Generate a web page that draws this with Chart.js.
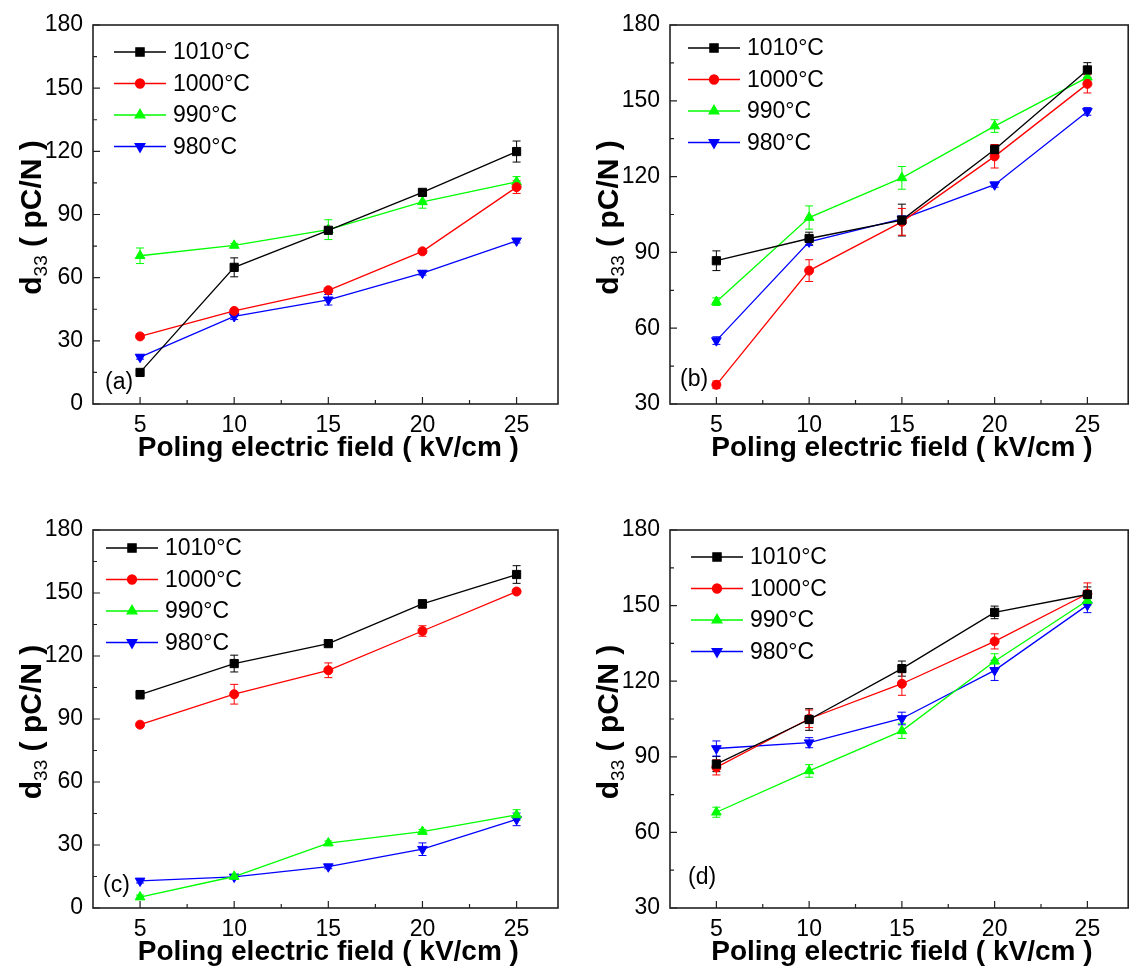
<!DOCTYPE html>
<html>
<head>
<meta charset="utf-8">
<script src="https://cdn.jsdelivr.net/npm/chart.js@4.4.1/dist/chart.umd.min.js"></script>
<style>
  html, body { margin: 0; padding: 0; background: #fff; }
  body { position: relative; width: 1131px; height: 967px; overflow: hidden; }
  canvas { position: absolute; }
</style>
</head>
<body>
<canvas id="chartA" width="570" height="480" style="left:0;top:0"></canvas>
<canvas id="chartB" width="570" height="480" style="left:565px;top:0"></canvas>
<canvas id="chartC" width="570" height="500" style="left:0;top:480px"></canvas>
<canvas id="chartD" width="570" height="500" style="left:565px;top:480px"></canvas>
<script>
// poling field (kV/cm)
const fieldValues = [5, 10, 15, 20, 25];
const xTicks = [5, 10, 15, 20, 25];
const xMinorTicks = [7.5, 12.5, 17.5, 22.5];
const yTicksAC = [0, 30, 60, 90, 120, 150, 180];
const yTicksBD = [30, 60, 90, 120, 150, 180];
const seriesNames = ['1010°C', '1000°C', '990°C', '980°C'];
const seriesColors = ['#000000', '#ff0000', '#00ff00', '#0000ff'];

// (a)
const a1010 = [15, 64.9, 82.5, 100.5, 119.9];
const a1000 = [32.1, 44.2, 54, 72.5, 103];
const a990 = [70.4, 75.3, 82.8, 96, 105.5];
const a980 = [22.3, 41.6, 49.5, 62.2, 77.5];
const a1010Err = [1, 4.5, 1, 1, 5];
const a1000Err = [1, 1, 1, 1, 3];
const a990Err = [3.7, 1, 4.7, 3, 2.5];
const a980Err = [1, 1.5, 2.5, 1, 1];

// (b)
const b1010 = [86.7, 95.5, 102.8, 130.7, 162.2];
const b1000 = [37.6, 82.8, 102.1, 128, 156.7];
const b990 = [70.5, 103.8, 119.5, 140, 159.3];
const b980 = [55.1, 94.2, 103.3, 116.8, 145.8];
const b1010Err = [3.9, 2.5, 6.3, 2, 2.9];
const b1000Err = [1.5, 4.3, 5.3, 4.6, 3.6];
const b990Err = [1.5, 4.6, 4.5, 2.5, 2.5];
const b980Err = [1.5, 1.5, 1, 1, 1.5];

// (c)
const c1010 = [101.6, 116.4, 125.9, 144.8, 158.8];
const c1000 = [87.3, 101.8, 113.2, 131.9, 150.7];
const c990 = [5.2, 15, 30.9, 36.4, 44.3];
const c980 = [12.9, 14.8, 19.7, 28, 42.2];
const c1010Err = [2, 4, 1, 2, 4.2];
const c1000Err = [1, 4.7, 3.5, 2.5, 1];
const c990Err = [1, 1, 1, 1, 2.5];
const c980Err = [1, 1, 1, 3, 3];

// (d)
const d1010 = [87.1, 104.8, 125, 147.3, 154.4];
const d1000 = [85.8, 105.1, 119, 135.8, 154.7];
const d990 = [68, 84.4, 100.3, 127.9, 152];
const d980 = [93.3, 95.6, 105.2, 124.3, 150.2];
const d1010Err = [3, 4.3, 3, 2.5, 3];
const d1000Err = [3, 3.5, 4.6, 3, 4.3];
const d990Err = [2, 2.5, 3, 3, 2];
const d980Err = [3, 2, 2.5, 4, 3];

const markerStyles = [
  { pointStyle: 'rect', rotation: 0, radius: 5.8 },
  { pointStyle: 'circle', rotation: 0, radius: 4.5 },
  { pointStyle: 'triangle', rotation: 0, radius: 5.6 },
  { pointStyle: 'triangle', rotation: 180, radius: 5.6 }
];

const fontName = "'Liberation Sans', Arial, sans-serif";

function minorOf(ticks) {
  let res = [];
  for (let i = 0; i < ticks.length - 1; i++) res.push((ticks[i] + ticks[i + 1]) / 2);
  return res;
}

const framePlugin = {
  id: 'frame',
  beforeDatasetsDraw(chart, args, opts) {
    let ctx = chart.ctx;
    let xs = chart.scales.x, ys = chart.scales.y;
    ctx.save();
    ctx.lineWidth = 1;
    chart.data.datasets.forEach(function(ds, i) {
      let errs = opts.errors[i];
      ctx.strokeStyle = seriesColors[i];
      ds.data.forEach(function(v, j) {
        let x = xs.getPixelForValue(fieldValues[j]);
        let y1 = ys.getPixelForValue(v - errs[j]);
        let y2 = ys.getPixelForValue(v + errs[j]);
        ctx.beginPath();
        ctx.moveTo(x, y1); ctx.lineTo(x, y2);
        ctx.moveTo(x - 4, y1); ctx.lineTo(x + 4, y1);
        ctx.moveTo(x - 4, y2); ctx.lineTo(x + 4, y2);
        ctx.stroke();
      });
    });
    ctx.restore();
  },
  afterDraw(chart, args, opts) {
    let ctx = chart.ctx;
    let area = chart.chartArea;
    let xs = chart.scales.x, ys = chart.scales.y;
    ctx.save();

    // frame
    ctx.strokeStyle = '#222';
    ctx.lineWidth = 1.6;
    ctx.strokeRect(area.left, area.top, area.right - area.left, area.bottom - area.top);

    // inward ticks
    ctx.lineWidth = 1.2;
    ctx.beginPath();
    xTicks.forEach(function(v) {
      let x = xs.getPixelForValue(v);
      ctx.moveTo(x, area.bottom); ctx.lineTo(x, area.bottom - 7);
    });
    xMinorTicks.forEach(function(v) {
      let x = xs.getPixelForValue(v);
      ctx.moveTo(x, area.bottom); ctx.lineTo(x, area.bottom - 4);
    });
    opts.yTicks.forEach(function(v) {
      let y = ys.getPixelForValue(v);
      ctx.moveTo(area.left, y); ctx.lineTo(area.left + 7, y);
    });
    minorOf(opts.yTicks).forEach(function(v) {
      let y = ys.getPixelForValue(v);
      ctx.moveTo(area.left, y); ctx.lineTo(area.left + 4, y);
    });
    ctx.stroke();

    ctx.fillStyle = '#000';

    // x title
    ctx.font = 'bold 28px ' + fontName;
    ctx.textAlign = 'center';
    ctx.textBaseline = 'middle';
    ctx.fillText('Poling electric field ( kV/cm )', xs.getPixelForValue(15), area.bottom + 44);

    // y title with subscript
    ctx.translate(area.left - 63, (area.top + area.bottom) / 2 + 3);
    ctx.rotate(-Math.PI / 2);
    ctx.textAlign = 'left';
    ctx.textBaseline = 'alphabetic';
    let bold = 'bold 30px ' + fontName;
    let sub = '19px ' + fontName;
    ctx.font = bold;
    let w1 = ctx.measureText('d').width;
    let w3 = ctx.measureText(' ( pC/N )').width;
    ctx.font = sub;
    let w2 = ctx.measureText('33').width;
    let sx = -(w1 + w2 + w3) / 2;
    ctx.font = bold;
    ctx.fillText('d', sx, 11);
    ctx.font = sub;
    ctx.fillText('33', sx + w1, 17);
    ctx.font = bold;
    ctx.fillText(' ( pC/N )', sx + w1 + w2, 11);
    ctx.setTransform(1, 0, 0, 1, 0, 0);

    // legend
    ctx.font = '23px ' + fontName;
    ctx.textBaseline = 'middle';
    seriesNames.forEach(function(name, i) {
      let x0 = area.left + opts.legendX;
      let y = area.top + opts.legendY + i * 31.5;
      ctx.strokeStyle = seriesColors[i];
      ctx.fillStyle = seriesColors[i];
      ctx.lineWidth = 1.3;
      ctx.beginPath();
      ctx.moveTo(x0, y); ctx.lineTo(x0 + 52, y);
      ctx.stroke();
      let m = markerStyles[i];
      Chart.helpers.drawPoint(ctx, { pointStyle: m.pointStyle, rotation: m.rotation, radius: m.radius, borderWidth: 1 }, x0 + 26, y);
      ctx.fillStyle = '#000';
      ctx.fillText(name, x0 + 59, y + 1);
    });

    // panel label
    ctx.fillText(opts.label, area.left + opts.labelX, area.bottom + opts.labelY);
    ctx.restore();
  }
};

function makeChart(id, series, errors, yTicks, layout) {
  let datasets = series.map(function(values, i) {
    let m = markerStyles[i];
    return {
      label: seriesNames[i],
      data: values,
      borderColor: seriesColors[i],
      backgroundColor: seriesColors[i],
      borderWidth: 1.3,
      pointStyle: m.pointStyle,
      pointRotation: m.rotation,
      pointRadius: m.radius,
      pointBorderWidth: 1,
      tension: 0
    };
  });
  return new Chart(document.getElementById(id), {
    type: 'line',
    data: { labels: fieldValues, datasets: datasets },
    plugins: [framePlugin],
    options: {
      responsive: false,
      animation: false,
      layout: { padding: { left: 0, top: layout.top, right: layout.right, bottom: 0 } },
      scales: {
        x: {
          type: 'linear',
          min: 2.5,
          max: 27.2,
          grid: { display: false, drawTicks: false },
          border: { display: false },
          afterBuildTicks: function(scale) { scale.ticks = xTicks.map(v => ({ value: v })); },
          afterFit: function(scale) { scale.height = layout.xHeight; },
          ticks: { color: '#000', padding: 8, font: { family: fontName, size: 23 }, maxRotation: 0 }
        },
        y: {
          min: yTicks[0],
          max: yTicks[yTicks.length - 1],
          grid: { display: false, drawTicks: false },
          border: { display: false },
          afterBuildTicks: function(scale) { scale.ticks = yTicks.map(v => ({ value: v })); },
          afterFit: function(scale) { scale.width = layout.yWidth; },
          ticks: { color: '#000', padding: 10, font: { family: fontName, size: 23 } }
        }
      },
      plugins: {
        legend: { display: false },
        tooltip: { enabled: false },
        frame: {
          errors: errors,
          yTicks: yTicks,
          label: layout.label,
          legendX: layout.legendX,
          legendY: layout.legendY,
          labelX: layout.labelX,
          labelY: layout.labelY
        }
      }
    }
  });
}

makeChart('chartA', [a1010, a1000, a990, a980], [a1010Err, a1000Err, a990Err, a980Err], yTicksAC,
  { top: 25, right: 12, xHeight: 76, yWidth: 93, label: '(a)', legendX: 21, legendY: 27, labelX: 12, labelY: -21 });
makeChart('chartB', [b1010, b1000, b990, b980], [b1010Err, b1000Err, b990Err, b980Err], yTicksBD,
  { top: 25, right: 1, xHeight: 76, yWidth: 105, label: '(b)', legendX: 18, legendY: 23, labelX: 10, labelY: -24 });
makeChart('chartC', [c1010, c1000, c990, c980], [c1010Err, c1000Err, c990Err, c980Err], yTicksAC,
  { top: 50, right: 12, xHeight: 72, yWidth: 93, label: '(c)', legendX: 13, legendY: 18, labelX: 10, labelY: -22 });
makeChart('chartD', [d1010, d1000, d990, d980], [d1010Err, d1000Err, d990Err, d980Err], yTicksBD,
  { top: 50, right: 1, xHeight: 72, yWidth: 105, label: '(d)', legendX: 21, legendY: 27, labelX: 18, labelY: -30 });
</script>
</body>
</html>
